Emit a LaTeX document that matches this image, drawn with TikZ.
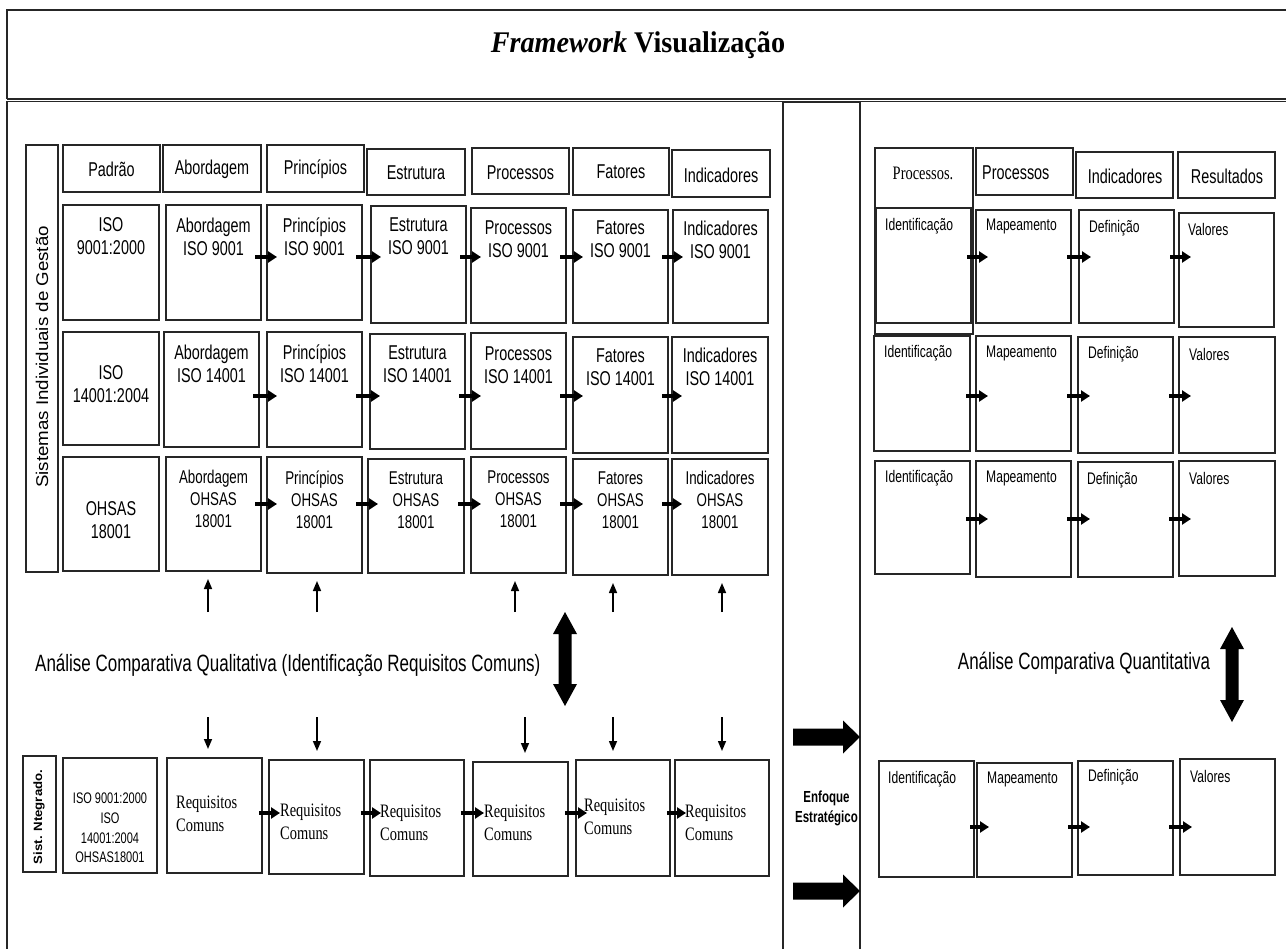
\documentclass[tikz,border=0pt]{standalone}
\usepackage{fontspec}
\setmainfont{Liberation Serif}
\newfontfamily\nsans[FakeStretch=0.72]{Liberation Sans}
\newfontfamily\nserif[FakeStretch=0.76]{Liberation Serif}
\newfontfamily\wsans[FakeStretch=1.1]{Liberation Sans}
\newfontfamily\ttlfont[FakeStretch=0.94]{Liberation Serif}
\usetikzlibrary{arrows.meta,fit,calc}

\tikzset{
  frame/.style={draw=black!85, line width=1.4pt},
  box/.style={draw=black!85, line width=1.3pt, inner sep=0pt, outer sep=0pt},
  flow/.style={line width=3.2pt, -{Triangle[length=9pt,width=11pt]}},
  thinarrow/.style={line width=1.5pt, -{Triangle[length=10pt,width=8pt]}},
  hdr/.style={inner sep=0pt, align=center, font=\nsans\fontsize{20}{23}\selectfont},
  cellc/.style={inner sep=0pt, align=center, font=\nsans\fontsize{18.5}{22}\selectfont},
  rlab/.style={inner sep=0pt, anchor=west, font=\nsans\fontsize{16.8}{20}\selectfont},
  rq/.style={inner sep=0pt, anchor=west, align=left, font=\nserif\fontsize{19}{23}\selectfont},
  isob/.style={inner sep=0pt, align=center, font=\nsans\fontsize{15.3}{19.7}\selectfont},
  big/.style={inner sep=0pt, font=\nsans\fontsize{23.6}{28}\selectfont},
}

% a box from corner (x1,y1) to (x2,y2) with its text node
\newcommand\cell[9]{%
  \node[box, fit={(#2,#3) (#4,#5)}] (#1) {};
  \node[#6] (#1-t) at (#7,#8) {#9};}

% thick vertical double arrow: x, top tip, bottom tip
\newcommand\vdarrow[3]{%
  \fill ({#1-6.5},{#2+22}) -- ({#1-12},{#2+22}) -- (#1,#2) -- ({#1+12},{#2+22})
    -- ({#1+6.5},{#2+22}) -- ({#1+6.5},{#3-22}) -- ({#1+12},{#3-22}) -- (#1,#3)
    -- ({#1-12},{#3-22}) -- ({#1-6.5},{#3-22}) -- cycle;}

% thick horizontal arrow: x start, x tip, y
\newcommand\hfatarrow[3]{%
  \fill (#1,{#3-8.5}) -- ({#2-17},{#3-8.5}) -- ({#2-17},{#3-16.5}) -- (#2,#3)
    -- ({#2-17},{#3+16.5}) -- ({#2-17},{#3+8.5}) -- (#1,{#3+8.5}) -- cycle;}

\begin{document}
\begin{tikzpicture}[x=1pt,y=-1pt]
\useasboundingbox (0,0) rectangle (1286,949);
\clip (0,0) rectangle (1286,949);

% ---------- frames ----------
\draw[frame, line width=1.8pt] (7,99) -- (7,10) -- (1300,10);
\draw[frame, line width=2pt] (7,99) -- (1300,99);
\draw[frame] (7,960) -- (7,101.5) -- (783,101.5) -- (783,960);
\draw[frame] (783,102) -- (860,102);
\draw[frame] (860,960) -- (860,101.5) -- (1300,101.5);

\node[font=\ttlfont\fontsize{30}{34}\selectfont, inner sep=0pt] (title) at (638,45)
  {\textbf{\textit{Framework}} \textbf{Visualização}};

% ---------- individual systems ----------
\node[box, fit={(26,145) (58,572)}] (sis) {};
\node[rotate=90, inner sep=0pt, font=\wsans\fontsize{17}{20}\selectfont] (sis-t) at (42,357)
  {Sistemas Individuais de Gestão};

\cell{hPad}{63}{145}{160}{192}{hdr}{111.5}{169}{Padrão}
\cell{hAbo}{163}{145}{261}{192}{hdr}{212}{169}{Abordagem}
\cell{hPri}{267}{145}{364}{192}{hdr}{315.5}{169}{Princípios}
\cell{hEst}{367}{149}{465}{195}{hdr}{416}{173}{Estrutura}
\cell{hPro}{472}{148}{569}{194}{hdr}{520.5}{173}{Processos}
\cell{hFat}{573}{148}{669}{195}{hdr}{621}{172}{Fatores}
\cell{hInd}{672}{150}{770}{197}{hdr}{721}{175}{Indicadores}

\cell{r1c0}{63}{205}{159}{320}{hdr}{111}{236.5}{ISO\\9001:2000}
\cell{r1c1}{166}{205}{261}{320}{hdr}{213.5}{236.5}{Abordagem\\ISO 9001}
\cell{r1c2}{267}{205}{362}{320}{hdr}{314.5}{236.5}{Princípios\\ISO 9001}
\cell{r1c3}{371}{206}{466}{323}{hdr}{418.5}{236.5}{Estrutura\\ISO 9001}
\cell{r1c4}{471}{208}{566}{323}{hdr}{518.5}{239.5}{Processos\\ISO 9001}
\cell{r1c5}{573}{210}{668}{323}{hdr}{620.5}{239.5}{Fatores\\ISO 9001}
\cell{r1c6}{673}{210}{768}{323}{hdr}{720.5}{240}{Indicadores\\ISO 9001}

\cell{r2c0}{63}{332}{159}{445}{hdr}{111}{384}{ISO\\14001:2004}
\cell{r2c1}{164}{332}{259}{447}{hdr}{211.5}{364}{Abordagem\\ISO 14001}
\cell{r2c2}{267}{332}{362}{447}{hdr}{314.5}{364}{Princípios\\ISO 14001}
\cell{r2c3}{370}{334}{465}{449}{hdr}{417.5}{364.5}{Estrutura\\ISO 14001}
\cell{r2c4}{471}{333}{566}{449}{hdr}{518.5}{365.5}{Processos\\ISO 14001}
\cell{r2c5}{573}{337}{668}{453}{hdr}{620.5}{367}{Fatores\\ISO 14001}
\cell{r2c6}{672}{337}{768}{453}{hdr}{720}{367}{Indicadores\\ISO 14001}

\cell{r3c0}{63}{457}{159}{571}{hdr}{111}{520}{OHSAS\\18001}
\cell{r3c1}{166}{457}{261}{571}{cellc}{213.5}{499}{Abordagem\\OHSAS\\18001}
\cell{r3c2}{267}{457}{362}{573}{cellc}{314.5}{499.5}{Princípios\\OHSAS\\18001}
\cell{r3c3}{368}{459}{464}{573}{cellc}{416}{500}{Estrutura\\OHSAS\\18001}
\cell{r3c4}{471}{457}{566}{573}{cellc}{518.5}{499.5}{Processos\\OHSAS\\18001}
\cell{r3c5}{573}{459}{668}{575}{cellc}{620.5}{500}{Fatores\\OHSAS\\18001}
\cell{r3c6}{672}{459}{768}{575}{cellc}{720}{500}{Indicadores\\OHSAS\\18001}

\coordinate (L1) at (0,257);
\coordinate (L2) at (0,396);
\coordinate (L3) at (0,504);
\foreach \rowi/\lev in {1/L1,2/L2,3/L3}
  \foreach \ca/\cb in {1/2,2/3,3/4,4/5,5/6}
    \draw[flow] ([xshift=-6pt]r\rowi c\ca.east |- \lev) -- ([xshift=10pt]r\rowi c\cb.west |- \lev);

% ---------- qualitative comparison ----------
\coordinate (u1) at (208,612);
\coordinate (u2) at (317,612);
\coordinate (u4) at (515,612);
\coordinate (u5) at (613,612);
\coordinate (u6) at (722,612);
\foreach \u/\t in {u1/r3c1,u2/r3c2,u4/r3c4,u5/r3c5,u6/r3c6}
  \draw[thinarrow, shorten >=8pt] (\u) -- (\u |- \t.south);

\node[big, anchor=west] (quali) at (35,665)
  {Análise Comparativa Qualitativa (Identificação Requisitos Comuns)};
\vdarrow{565}{612}{706}

% ---------- integrated system ----------
\node[box, fit={(23,756) (56,872)}] (sint) {};
\node[rotate=90, inner sep=0pt, font=\wsans\bfseries\fontsize{12}{14}\selectfont] (sint-t) at (39,817)
  {Sist. Ntegrado.};
\cell{iso}{63}{758}{157}{873}{isob}{110}{828}{ISO 9001:2000\\ISO\\14001:2004\\OHSAS18001}
\cell{q1}{167}{758}{262}{873}{rq}{176}{813.5}{Requisitos\\Comuns}
\cell{q2}{269}{760}{364}{874}{rq}{280}{821.5}{Requisitos\\Comuns}
\cell{q3}{370}{760}{464}{876}{rq}{380}{822.5}{Requisitos\\Comuns}
\cell{q4}{473}{762}{568}{876}{rq}{484}{822.5}{Requisitos\\Comuns}
\cell{q5}{576}{760}{670}{876}{rq}{584}{816.5}{Requisitos\\Comuns}
\cell{q6}{675}{760}{769}{876}{rq}{685}{822.5}{Requisitos\\Comuns}

\coordinate (d1) at (208,717);
\coordinate (d2) at (317,717);
\coordinate (d4) at (525,717);
\coordinate (d5) at (613,717);
\coordinate (d6) at (722,717);
\foreach \u/\t in {d1/q1,d2/q2,d4/q4,d5/q5,d6/q6}
  \draw[thinarrow, shorten >=9pt] (\u) -- (\u |- \t.north);

\coordinate (LQ) at (0,813);
\foreach \ca/\cb in {1/2,2/3,3/4,4/5,5/6}
  \draw[flow] ([xshift=-3pt]q\ca.east |- LQ) -- ([xshift=11pt]q\cb.west |- LQ);

% ---------- strategic focus ----------
\node[inner sep=0pt, align=center, font=\nsans\bfseries\fontsize{16}{20}\selectfont] (enf) at (826.5,808)
  {Enfoque\\Estratégico};
\hfatarrow{793}{860}{737}
\hfatarrow{793}{860}{891}

% ---------- process indicators ----------
\node[box, fit={(875,148) (973,334)}] (hP1) {};
\node[inner sep=0pt, font=\nserif\fontsize{19}{23}\selectfont] (hP1-t) at (923,173) {Processos.};
\cell{hP2}{976}{148}{1073}{195}{hdr, anchor=west}{982}{173}{Processos}
\cell{hI}{1076}{152}{1173}{198}{hdr}{1125}{176}{Indicadores}
\cell{hR}{1178}{152}{1275}{198}{hdr}{1227}{176}{Resultados}

\cell{a1}{876}{208}{971}{323}{rlab}{885}{226}{Identificação}
\cell{b1}{976}{210}{1071}{323}{rlab}{986}{226}{Mapeamento}
\cell{c1}{1079}{210}{1174}{323}{rlab}{1089}{228}{Definição}
\cell{e1}{1179}{213}{1274}{327}{rlab}{1188}{229}{Valores}

\cell{a2}{874}{336}{970}{451}{rlab}{884}{353}{Identificação}
\cell{b2}{976}{336}{1071}{451}{rlab}{986}{353}{Mapeamento}
\cell{c2}{1078}{337}{1173}{453}{rlab}{1088}{354}{Definição}
\cell{e2}{1179}{337}{1275}{453}{rlab}{1189}{354}{Valores}

\cell{a3}{875}{461}{970}{574}{rlab}{885}{478}{Identificação}
\cell{b3}{976}{461}{1071}{577}{rlab}{986}{478}{Mapeamento}
\cell{c3}{1078}{462}{1173}{577}{rlab}{1087}{480}{Definição}
\cell{e3}{1179}{461}{1275}{576}{rlab}{1189}{478}{Valores}

\node[big] (quanti) at (1084,663) {Análise Comparativa Quantitativa};
\vdarrow{1232}{627}{722}

\cell{a4}{879}{761}{974}{877}{rlab}{888}{779}{Identificação}
\cell{b4}{977}{763}{1072}{877}{rlab}{987}{779}{Mapeamento}
\cell{c4}{1078}{761}{1173}{875}{rlab}{1088}{777}{Definição}
\cell{e4}{1180}{759}{1275}{875}{rlab}{1190}{776}{Valores}

\coordinate (R1) at (0,257);
\coordinate (R2) at (0,396);
\coordinate (R3) at (0,519);
\coordinate (R4) at (0,827);
\foreach \rowi/\lev in {1/R1,2/R2,3/R3,4/R4}
  \foreach \ca/\cb in {a/b,b/c,c/e}
    \draw[flow] ([xshift=-4pt]\ca\rowi.east |- \lev) -- ([xshift=12pt]\cb\rowi.west |- \lev);

\end{tikzpicture}
\end{document}
